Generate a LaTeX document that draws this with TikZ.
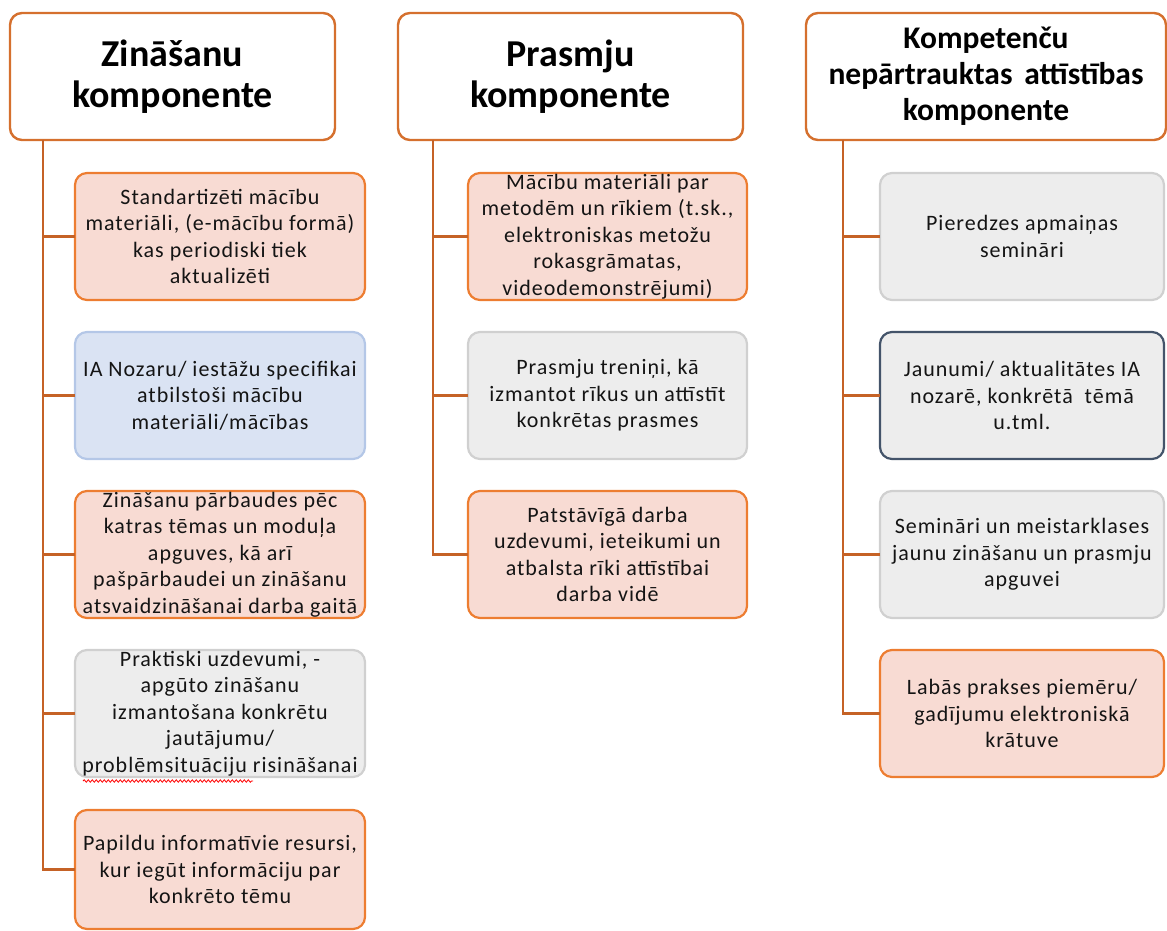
\documentclass[tikz,border=0pt]{standalone}
\usepackage{fontspec}
\setmainfont{Carlito}
\newfontfamily\bodyfont[LetterSpace=4.5]{Carlito}
\usetikzlibrary{decorations.pathmorphing}
\definecolor{lineor}{RGB}{197,98,38}
\definecolor{hdror}{RGB}{213,112,46}
\definecolor{pinkfill}{RGB}{248,219,211}
\definecolor{pinkdraw}{RGB}{237,125,49}
\definecolor{bluefill}{RGB}{218,227,243}
\definecolor{bluedraw}{RGB}{180,199,231}
\definecolor{greyfill}{RGB}{237,237,237}
\definecolor{greydraw}{RGB}{208,208,208}
\definecolor{darkdraw}{RGB}{68,84,106}
\definecolor{txt}{RGB}{20,20,20}
\tikzset{
  hdr/.style={draw=hdror, line width=2.4pt, fill=white, rounded corners=12pt,
    inner sep=0pt, outer sep=0pt, align=center, text=black,
    font=\bfseries\fontsize{38}{41}\selectfont},
  item/.style={line width=2.2pt, rounded corners=12pt, inner sep=0pt, outer sep=0pt,
    align=center, text=txt, font=\bodyfont\fontsize{22}{26.5}\selectfont},
  pinkbox/.style={item, draw=pinkdraw, fill=pinkfill},
  bluebox/.style={item, draw=bluedraw, fill=bluefill},
  greybox/.style={item, draw=greydraw, fill=greyfill},
  darkbox/.style={item, draw=darkdraw, fill=greyfill},
  conn/.style={draw=lineor, line width=2.6pt},
  c1/.style={minimum width=290pt},
  c2/.style={minimum width=279pt},
  c3/.style={minimum width=284pt},
}
\begin{document}
\begin{tikzpicture}[x=1pt,y=-1pt]
\useasboundingbox (0,0) rectangle (1167,931);
% headers
\node[hdr, minimum width=325pt, minimum height=127pt] (h1) at (172.5,76.5) {Zināšanu\\komponente};
\node[hdr, minimum width=345pt, minimum height=127pt] (h2) at (570.5,76.5) {Prasmju\\komponente};
\node[hdr, minimum width=360pt, minimum height=127pt, font=\bfseries\fontsize{31.5}{36}\selectfont] (h3) at (986,76.5) {Kompetenču\\nepārtrauktas\hspace{0.15em} attīstības\\komponente};
% column 1
\node[pinkbox, c1, minimum height=127pt] (b1a) at (220,236.5) {Standartizēti mācību\\materiāli, (e-mācību formā)\\kas periodiski tiek\\aktualizēti};
\node[bluebox, c1, minimum height=127pt] (b1b) at (220,395.5) {IA Nozaru/ iestāžu specifikai\\atbilstoši mācību\\materiāli/mācības};
\node[pinkbox, c1, minimum height=127pt] (b1c) at (220,554.5) {Zināšanu pārbaudes pēc\\katras tēmas un moduļa\\apguves, kā arī\\pašpārbaudei un zināšanu\\atsvaidzināšanai darba gaitā};
\node[greybox, c1, minimum height=127pt] (b1d) at (220,713.5) {Praktiski uzdevumi, -\\apgūto zināšanu\\izmantošana konkrētu\\jautājumu/\\problēmsituāciju risināšanai};
\node[pinkbox, c1, minimum height=119pt] (b1e) at (220,869.5) {Papildu informatīvie resursi,\\kur iegūt informāciju par\\konkrēto tēmu};
% column 2
\node[pinkbox, c2, minimum height=127pt] (b2a) at (607.5,236.5) {Mācību materiāli par\\metodēm un rīkiem (t.sk.,\\elektroniskas metožu\\rokasgrāmatas,\\videodemonstrējumi)};
\node[greybox, c2, minimum height=127pt] (b2b) at (607.5,395.5) {Prasmju treniņi, kā\\izmantot rīkus un attīstīt\\konkrētas prasmes};
\node[pinkbox, c2, minimum height=127pt] (b2c) at (607.5,554.5) {Patstāvīgā darba\\uzdevumi, ieteikumi un\\atbalsta rīki attīstībai\\darba vidē};
% column 3
\node[greybox, c3, minimum height=127pt] (b3a) at (1022,236.5) {Pieredzes apmaiņas\\semināri};
\node[darkbox, c3, minimum height=127pt] (b3b) at (1022,395.5) {Jaunumi/ aktualitātes IA\\nozarē, konkrētā\ \ tēmā\\u.tml.};
\node[greybox, c3, minimum height=127pt] (b3c) at (1022,554.5) {Semināri un meistarklases\\jaunu zināšanu un prasmju\\apguvei};
\node[pinkbox, c3, minimum height=127pt] (b3d) at (1022,713.5) {Labās prakses piemēru/\\gadījumu elektroniskā\\krātuve};
% spines
\coordinate (v1) at ([xshift=33pt]h1.south west);
\coordinate (v2) at ([xshift=35pt]h2.south west);
\coordinate (v3) at ([xshift=37pt]h3.south west);
\draw[conn] (v1) |- (b1e.west);
\draw[conn] (b1a.west) -- (b1a.west -| v1);
\draw[conn] (b1b.west) -- (b1b.west -| v1);
\draw[conn] (b1c.west) -- (b1c.west -| v1);
\draw[conn] (b1d.west) -- (b1d.west -| v1);
\draw[conn] (v2) |- (b2c.west);
\draw[conn] (b2a.west) -- (b2a.west -| v2);
\draw[conn] (b2b.west) -- (b2b.west -| v2);
\draw[conn] (v3) |- (b3d.west);
\draw[conn] (b3a.west) -- (b3a.west -| v3);
\draw[conn] (b3b.west) -- (b3b.west -| v3);
\draw[conn] (b3c.west) -- (b3c.west -| v3);
% spell-check underline
\draw[red, line width=0.8pt, decorate, decoration={snake, amplitude=1.2pt, segment length=4pt}] (83,781) -- (253,781);
\end{tikzpicture}
\end{document}
